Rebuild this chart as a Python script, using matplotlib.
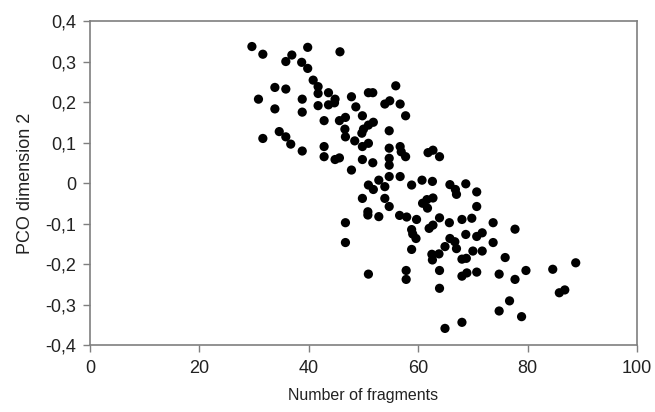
import matplotlib
matplotlib.use("Agg")
import matplotlib.pyplot as plt

# points: number of fragments vs PCO dimension 2
fragments = [
    29.6, 31.6, 39.8, 45.7, 36.9, 35.8, 38.7, 39.8, 40.8, 33.8,
    35.8, 41.7, 41.7, 43.6, 30.8, 38.8, 44.8, 47.8, 50.9, 51.7,
    55.9, 33.8, 38.8, 41.7, 43.6, 44.7, 48.6, 53.9, 54.8, 56.7,
    57.7, 42.8, 45.6, 46.7, 49.8, 46.6, 46.7, 50.0, 50.9, 51.8,
    49.7, 48.4, 49.8, 50.9, 54.7, 31.6, 34.6, 35.8, 36.7, 38.8,
    42.8, 42.8, 44.8, 45.6, 49.8, 51.7, 47.8, 54.7, 56.7, 56.9,
    57.7, 54.7, 54.7, 54.7, 56.7, 58.8, 52.8, 50.9, 51.8, 53.9,
    53.9, 49.8, 54.7, 50.8, 50.8, 52.8, 56.6, 57.9, 59.7, 46.7,
    46.7, 50.9, 57.8, 57.8, 61.8, 62.7, 63.9, 60.7, 62.6, 60.8,
    61.6, 62.7, 61.7, 63.9, 65.8, 66.8, 67.0, 68.7, 70.7, 70.7,
    65.7, 68.0, 69.8, 73.7, 77.7, 58.8, 59.0, 59.6, 58.8, 62.0,
    62.7, 65.8, 66.7, 67.0, 64.9, 68.7, 70.7, 71.7, 73.7, 70.0,
    71.7, 62.5, 63.8, 62.6, 68.0, 68.8, 63.9, 63.9, 68.0, 68.9,
    70.7, 75.9, 74.8, 77.7, 79.7, 84.6, 88.8, 85.8, 86.8, 76.7,
    74.8, 78.9, 68.0, 64.9,
]
pco2 = [
    0.337, 0.318, 0.335, 0.324, 0.316, 0.300, 0.298, 0.283, 0.254, 0.236,
    0.232, 0.238, 0.221, 0.223, 0.207, 0.207, 0.207, 0.213, 0.223, 0.223,
    0.240, 0.183, 0.175, 0.191, 0.193, 0.198, 0.188, 0.195, 0.203, 0.195,
    0.166, 0.154, 0.154, 0.162, 0.166, 0.133, 0.114, 0.133, 0.143, 0.150,
    0.123, 0.104, 0.090, 0.098, 0.129, 0.110, 0.127, 0.114, 0.096, 0.079,
    0.090, 0.065, 0.058, 0.062, 0.058, 0.050, 0.032, 0.086, 0.090, 0.077,
    0.065, 0.061, 0.044, 0.016, 0.016, -0.005, 0.007, -0.005, -0.016, -0.009,
    -0.038, -0.038, -0.058, -0.071, -0.079, -0.083, -0.080, -0.084, -0.090, -0.098,
    -0.147, -0.225, -0.216, -0.238, 0.075, 0.081, 0.065, 0.007, 0.004, -0.050,
    -0.041, -0.037, -0.062, -0.086, -0.004, -0.016, -0.028, -0.002, -0.022, -0.058,
    -0.098, -0.090, -0.087, -0.098, -0.114, -0.115, -0.126, -0.137, -0.164, -0.112,
    -0.104, -0.137, -0.145, -0.162, -0.157, -0.127, -0.132, -0.123, -0.147, -0.168,
    -0.168, -0.176, -0.175, -0.190, -0.188, -0.186, -0.216, -0.260, -0.230, -0.222,
    -0.220, -0.184, -0.225, -0.238, -0.216, -0.213, -0.197, -0.271, -0.264, -0.291,
    -0.316, -0.330, -0.344, -0.359,
]

xticks = [0, 20, 40, 60, 80, 100]
yticks = [0.4, 0.3, 0.2, 0.1, 0, -0.1, -0.2, -0.3, -0.4]
ytick_labels = ["0,4", "0,3", "0,2", "0,1", "0", "-0,1", "-0,2", "-0,3", "-0,4"]

plt.rcParams['font.family'] = ['Liberation Sans', 'DejaVu Sans']

fig = plt.figure(figsize=(6.55, 4.12), dpi=100)
ax = fig.add_axes([0.1374, 0.1626, 0.8351, 0.7864])

ax.scatter(fragments, pco2, s=44, color='black', edgecolors='none', zorder=3)

ax.set_xlim(0, 100)
ax.set_ylim(-0.4, 0.4)
ax.set_xticks(xticks)
ax.set_yticks(yticks)
ax.set_yticklabels(ytick_labels)

for sp in ax.spines.values():
    sp.set_color('#7f7f7f')
    sp.set_linewidth(1.2)
ax.tick_params(axis='both', direction='out', length=5, width=1, color='#7f7f7f',
               labelsize=13, labelcolor='#222222', pad=5)
ax.tick_params(axis='x', pad=6)

ax.set_xlabel("Number of fragments", fontsize=11.5, color='#222222', labelpad=8)
ax.set_ylabel("PCO dimension 2", fontsize=13, color='#222222', labelpad=8)

fig.savefig("out.png", dpi=100)
